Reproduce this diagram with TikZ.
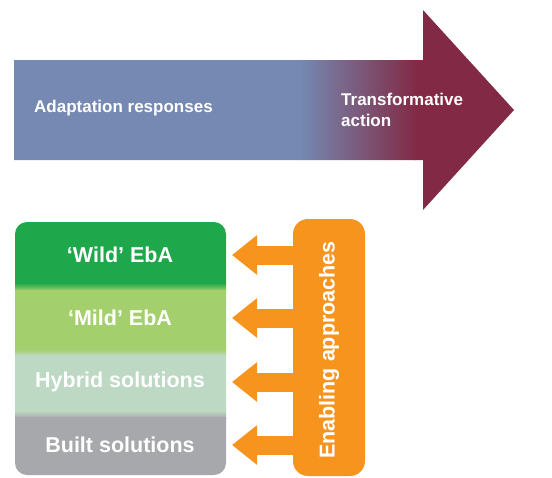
\documentclass[tikz,border=0pt]{standalone}
\usepackage{fontspec}
\setmainfont{Liberation Sans}
\usetikzlibrary{arrows.meta}
\definecolor{adblue}{HTML}{7589B2}
\definecolor{tmaroon}{HTML}{822A45}
\definecolor{wildgreen}{HTML}{1EA84B}
\definecolor{mildgreen}{HTML}{A3D06C}
\definecolor{hybridpale}{HTML}{BDD8C3}
\definecolor{builtgray}{HTML}{A7A8AC}
\definecolor{enorange}{HTML}{F7941E}
\begin{document}
\begin{tikzpicture}[x=1pt,y=-1pt,
  toplabel/.style={text=white,font=\fontsize{17}{21}\selectfont\bfseries,inner sep=0pt},
  stacklabel/.style={text=white,font=\fontsize{21.5}{25}\selectfont\bfseries,inner sep=0pt},
  enarrow/.style={draw=enorange,line width=19pt,-{Triangle[width=38pt,length=25pt]}}]
\useasboundingbox (0,0) rectangle (552,477);
% big arrow
\begin{scope}
\clip (14,60) -- (423,60) -- (423,10) -- (514,110) -- (423,210) -- (423,160) -- (14,160) -- cycle;
\fill[adblue] (0,0) rectangle (301,220);
\shade[left color=adblue,right color=tmaroon] (300,0) rectangle (416,220);
\fill[tmaroon] (415,0) rectangle (520,220);
\end{scope}
\node[toplabel,anchor=west] (adapt) at (34,108) {Adaptation responses};
\node[toplabel,anchor=west,align=left] (transf) at (341,110) {Transformative\\action};
% stack
\begin{scope}
\clip[rounded corners=12pt] (15,222) rectangle (226,475);
\fill[wildgreen] (0,215) rectangle (230,284);
\shade[top color=wildgreen,bottom color=mildgreen] (0,283) rectangle (230,291);
\fill[mildgreen] (0,290) rectangle (230,350);
\shade[top color=mildgreen,bottom color=hybridpale] (0,349) rectangle (230,356);
\fill[hybridpale] (0,355) rectangle (230,412);
\shade[top color=hybridpale,bottom color=builtgray] (0,411) rectangle (230,418);
\fill[builtgray] (0,417) rectangle (230,480);
\end{scope}
\node[stacklabel] (wild) at (120,255) {‘Wild’ EbA};
\node[stacklabel] (mild) at (120,318) {‘Mild’ EbA};
\node[stacklabel] (hybrid) at (120,382) {Hybrid solutions};
\node[stacklabel] (built) at (120,445) {Built solutions};
\coordinate (tipx) at (232,0);
% enabling box
\fill[enorange,rounded corners=15pt] (293,219) rectangle (365,476);
\node[stacklabel,rotate=90] (enab) at (329,350) {Enabling approaches};
\coordinate (boxin) at (300,0);
\draw[enarrow] (boxin |- wild) -- (tipx |- wild);
\draw[enarrow] (boxin |- mild) -- (tipx |- mild);
\draw[enarrow] (boxin |- hybrid) -- (tipx |- hybrid);
\draw[enarrow] (boxin |- built) -- (tipx |- built);
\end{tikzpicture}
\end{document}
